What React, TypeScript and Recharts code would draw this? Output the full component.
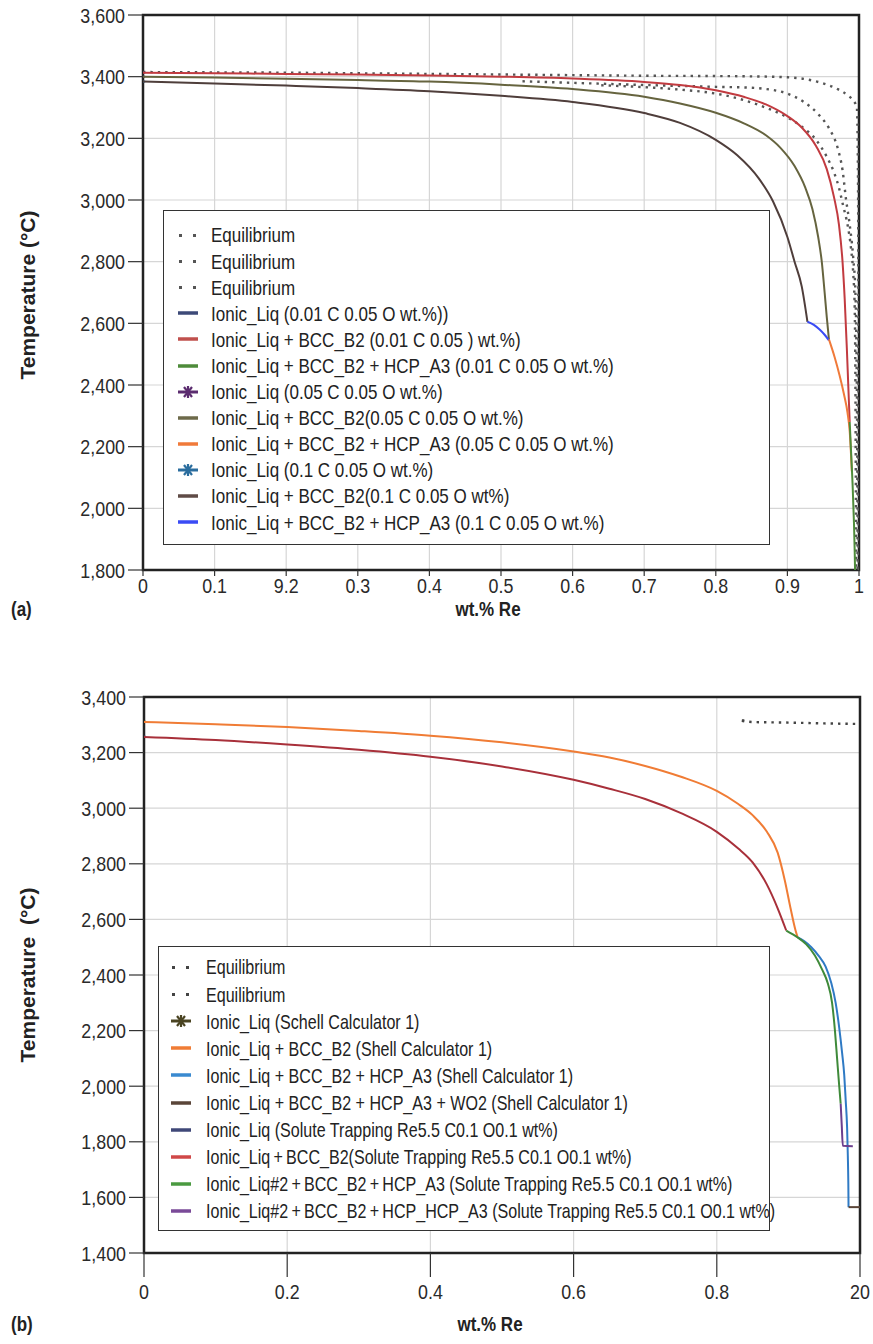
import React from 'react';
import { LineChart, Line, XAxis, YAxis, CartesianGrid, ReferenceArea } from 'recharts';

const FONT = "'Liberation Sans',Arial,sans-serif";

// ---------- Panel (a) ----------
const A_X_TICKS = [0, 0.1, 0.2, 0.3, 0.4, 0.5, 0.6, 0.7, 0.8, 0.9, 1];
const A_X_LABELS = ['0', '0.1', '9.2', '0.3', '0.4', '0.5', '0.6', '0.7', '0.8', '0.9', '1'];
const A_Y_TICKS = [1800, 2000, 2200, 2400, 2600, 2800, 3000, 3200, 3400, 3600];

const A_EQ1: [number, number][] = [[0, 3415], [0.1, 3414], [0.2, 3413], [0.3, 3411], [0.4, 3409], [0.5, 3407], [0.6, 3405], [0.7, 3403], [0.8, 3402], [0.85, 3401], [0.9, 3398], [0.93, 3390], [0.95, 3378], [0.97, 3360], [0.985, 3338], [0.993, 3320], [0.997, 3300], [0.9985, 3100], [0.9992, 2600], [0.9995, 1800]];
const A_EQ2: [number, number][] = [[0.53, 3385], [0.6, 3380], [0.7, 3373], [0.8, 3367], [0.85, 3364], [0.87, 3360], [0.9, 3345], [0.923, 3318], [0.944, 3276], [0.958, 3233], [0.971, 3162], [0.977, 3097], [0.982, 3000], [0.987, 2920], [0.992, 2810], [0.995, 2700], [0.9965, 2500], [0.9975, 2200], [0.998, 1800]];
const A_EQ3: [number, number][] = [[0.64, 3372], [0.7, 3366], [0.75, 3358], [0.8, 3345], [0.83, 3330], [0.86, 3308], [0.88, 3290], [0.9, 3268], [0.92, 3238], [0.94, 3195], [0.955, 3140], [0.965, 3090], [0.972, 3040], [0.978, 2980], [0.984, 2920], [0.989, 2840], [0.992, 2760], [0.994, 2650], [0.995, 2400], [0.9957, 2000], [0.996, 1800]];
const A_LIQ_001: [number, number][] = [[0, 3413], [0.003, 3413]];
const A_BCC_001: [number, number][] = [[0, 3413], [0.1, 3411], [0.2, 3409], [0.3, 3407], [0.4, 3404], [0.5, 3400], [0.6, 3394], [0.7, 3383], [0.75, 3373], [0.8, 3356], [0.84, 3334], [0.87, 3310], [0.9, 3272], [0.92, 3235], [0.94, 3175], [0.955, 3100], [0.965, 3010], [0.972, 2920], [0.977, 2800], [0.98, 2680], [0.983, 2520], [0.985, 2400], [0.987, 2280]];
const A_HCP_001: [number, number][] = [[0.987, 2280], [0.989, 2180], [0.991, 2080], [0.993, 1950], [0.994, 1860], [0.9945, 1800]];
const A_LIQ_005: [number, number][] = [[0, 3400], [0.003, 3400]];
const A_BCC_005: [number, number][] = [[0, 3400], [0.1, 3397], [0.2, 3393], [0.3, 3389], [0.4, 3384], [0.5, 3374], [0.6, 3360], [0.7, 3335], [0.75, 3313], [0.8, 3283], [0.84, 3248], [0.87, 3210], [0.89, 3170], [0.91, 3110], [0.925, 3040], [0.935, 2970], [0.943, 2880], [0.948, 2800], [0.952, 2700], [0.955, 2620], [0.958, 2548]];
const A_HCP_005: [number, number][] = [[0.958, 2548], [0.966, 2490], [0.973, 2430], [0.979, 2370], [0.984, 2310], [0.987, 2250], [0.99, 2120]];
const A_LIQ_01: [number, number][] = [[0, 3384], [0.003, 3384]];
const A_BCC_01: [number, number][] = [[0, 3384], [0.1, 3378], [0.2, 3371], [0.3, 3363], [0.4, 3353], [0.5, 3338], [0.6, 3318], [0.7, 3282], [0.75, 3250], [0.8, 3195], [0.83, 3145], [0.86, 3070], [0.88, 2995], [0.9, 2880], [0.91, 2800], [0.92, 2720], [0.928, 2605]];
const A_HCP_01: [number, number][] = [[0.928, 2605], [0.937, 2595], [0.945, 2580], [0.952, 2563], [0.958, 2545]];

const A_NAMES = [
  'Equilibrium',
  'Equilibrium',
  'Equilibrium',
  'Ionic_Liq (0.01 C 0.05 O wt.%))',
  'Ionic_Liq + BCC_B2 (0.01 C 0.05 ) wt.%)',
  'Ionic_Liq + BCC_B2 + HCP_A3 (0.01 C 0.05 O wt.%)',
  'Ionic_Liq (0.05 C 0.05 O wt.%)',
  'Ionic_Liq + BCC_B2(0.05 C 0.05 O wt.%)',
  'Ionic_Liq + BCC_B2 + HCP_A3 (0.05 C 0.05 O wt.%)',
  'Ionic_Liq (0.1 C 0.05 O wt.%)',
  'Ionic_Liq + BCC_B2(0.1 C 0.05 O wt%)',
  'Ionic_Liq + BCC_B2 + HCP_A3 (0.1 C 0.05 O wt.%)',
];
const A_COLORS = ['#555555', '#555555', '#555555', '#3d4a78', '#c23b40', '#4e8b3a', '#5b2c6f', '#66643f', '#f07a3a', '#2b6d9e', '#4f3e3b', '#3a4bf5'];
const A_LEGEND_COLORS = ['#555555', '#555555', '#555555', '#3d4a78', '#c0504d', '#4e8b3a', '#5b2c6f', '#6d6a4a', '#f07a3a', '#2b6d9e', '#5f4b46', '#3a4bf5'];
const A_KIND = ['dot', 'dot', 'dot', 'line', 'line', 'line', 'star', 'line', 'line', 'star', 'line', 'line'];
const A_DATA = [A_EQ1, A_EQ2, A_EQ3, A_LIQ_001, A_BCC_001, A_HCP_001, A_LIQ_005, A_BCC_005, A_HCP_005, A_LIQ_01, A_BCC_01, A_HCP_01];
const A_DRAW_ORDER = [0, 1, 2, 3, 6, 9, 4, 7, 10, 11, 8, 5];

// ---------- Panel (b) ----------
const B_X_TICKS = [0, 0.2, 0.4, 0.6, 0.8, 1];
const B_X_LABELS = ['0', '0.2', '0.4', '0.6', '0.8', '20'];
const B_Y_TICKS = [1400, 1600, 1800, 2000, 2200, 2400, 2600, 2800, 3000, 3200, 3400];

const B_EQ1: [number, number][] = [[0.835, 3314], [0.85, 3310], [0.9, 3308], [0.95, 3305], [1, 3303]];
const B_EQ2: [number, number][] = [[0.835, 3316], [0.845, 3314]];
const B_LIQ_SHELL: [number, number][] = [[0, 3312], [0.002, 3312]];
const B_BCC_SHELL: [number, number][] = [[0, 3310], [0.1, 3302], [0.2, 3292], [0.3, 3278], [0.4, 3261], [0.5, 3237], [0.6, 3204], [0.65, 3182], [0.7, 3152], [0.75, 3113], [0.8, 3062], [0.83, 3015], [0.85, 2975], [0.87, 2915], [0.885, 2840], [0.895, 2740], [0.903, 2640], [0.91, 2560], [0.913, 2535]];
const B_HCP_SHELL: [number, number][] = [[0.913, 2535], [0.922, 2522], [0.932, 2500], [0.942, 2470], [0.952, 2430], [0.96, 2370], [0.966, 2300], [0.971, 2210], [0.975, 2120], [0.978, 2040], [0.98, 1950], [0.982, 1850], [0.983, 1750], [0.9837, 1650], [0.984, 1565]];
const B_WO2_SHELL: [number, number][] = [[0.984, 1565], [1, 1565]];
const B_LIQ_ST: [number, number][] = [[0, 3258], [0.002, 3258]];
const B_BCC_ST: [number, number][] = [[0, 3256], [0.1, 3245], [0.2, 3229], [0.3, 3210], [0.4, 3185], [0.5, 3150], [0.6, 3102], [0.65, 3070], [0.7, 3033], [0.75, 2982], [0.8, 2915], [0.83, 2855], [0.85, 2805], [0.87, 2725], [0.885, 2640], [0.897, 2560]];
const B_HCP_ST: [number, number][] = [[0.897, 2560], [0.905, 2548], [0.913, 2535], [0.925, 2510], [0.937, 2470], [0.947, 2420], [0.955, 2370], [0.961, 2300], [0.965, 2200], [0.968, 2100], [0.971, 2000], [0.973, 1937]];
const B_HCPHCP_ST: [number, number][] = [[0.973, 1937], [0.9745, 1860], [0.976, 1786], [0.99, 1784]];

const B_NAMES = [
  'Equilibrium',
  'Equilibrium',
  'Ionic_Liq (Schell Calculator 1)',
  'Ionic_Liq + BCC_B2 (Shell Calculator 1)',
  'Ionic_Liq + BCC_B2 + HCP_A3 (Shell Calculator 1)',
  'Ionic_Liq + BCC_B2 + HCP_A3 + WO2 (Shell Calculator 1)',
  'Ionic_Liq (Solute Trapping Re5.5 C0.1 O0.1 wt%)',
  'Ionic_Liq\u2009+\u2009BCC_B2(Solute Trapping Re5.5 C0.1 O0.1 wt%)',
  'Ionic_Liq#2\u2009+\u2009BCC_B2\u2009+\u2009HCP_A3 (Solute Trapping Re5.5 C0.1 O0.1 wt%)',
  'Ionic_Liq#2\u2009+\u2009BCC_B2\u2009+\u2009HCP_HCP_A3 (Solute Trapping Re5.5 C0.1 O0.1 wt%)',
];
const B_COLORS = ['#444444', '#444444', '#4a4422', '#f07c35', '#2f7ac4', '#5a4538', '#3f4878', '#a8303a', '#3f8a3a', '#6c3f8e'];
const B_LEGEND_COLORS = ['#444444', '#444444', '#4a4422', '#f07c35', '#3a8ad0', '#5a4538', '#3f4878', '#d04848', '#4a9a40', '#7a4a98'];
const B_KIND = ['dot', 'dot', 'star', 'line', 'line', 'line', 'line', 'line', 'line', 'line'];
const B_DATA = [B_EQ1, B_EQ2, B_LIQ_SHELL, B_BCC_SHELL, B_HCP_SHELL, B_WO2_SHELL, B_LIQ_ST, B_BCC_ST, B_HCP_ST, B_HCPHCP_ST];
const B_DRAW_ORDER = [0, 1, 2, 6, 3, 7, 4, 5, 8, 9];

const toPts = (d: [number, number][]) => d.map(([x, t]) => ({ x, t }));

const TICK_SCALE = 0.85;

function XTick(props: any) {
  const { x, y, payload, labels, ticks } = props;
  const label = labels[ticks.indexOf(payload.value)];
  return (
    <text transform={`translate(${x},${y}) scale(${TICK_SCALE},1)`} textAnchor="middle" dy="0.74em"
      fontFamily={FONT} fontSize={21} fill="#2a2a2a">{label}</text>
  );
}

function YTick(props: any) {
  const { x, y, payload } = props;
  return (
    <text transform={`translate(${x},${y}) scale(${TICK_SCALE},1)`} textAnchor="end" dy="0.36em"
      fontFamily={FONT} fontSize={21} fill="#2a2a2a">{Number(payload.value).toLocaleString('en-US')}</text>
  );
}

function LegendIcon({ kind, color }: { kind: string; color: string }) {
  if (kind === 'dot') {
    return (
      <svg width={22} height={12} style={{ display: 'block' }}>
        <rect x={2} y={5} width={3} height={3} fill={color} />
        <rect x={16} y={5} width={3} height={3} fill={color} />
      </svg>
    );
  }
  if (kind === 'star') {
    return (
      <svg width={22} height={12} style={{ display: 'block' }}>
        <line x1={1} y1={6} x2={21} y2={6} stroke={color} strokeWidth={3} />
        <g stroke={color} strokeWidth={2.2}>
          <line x1={7} y1={1} x2={15} y2={11} />
          <line x1={15} y1={1} x2={7} y2={11} />
          <line x1={11} y1={0} x2={11} y2={12} />
        </g>
      </svg>
    );
  }
  return (
    <svg width={22} height={12} style={{ display: 'block' }}>
      <line x1={1} y1={6} x2={21} y2={6} stroke={color} strokeWidth={3.5} />
    </svg>
  );
}

function LegendBox(props: {
  left: number; top: number; width: number; height: number;
  names: string[]; colors: string[]; kinds: string[];
  firstRow: number; rowGap: number; iconX: number; textX: number; fontSize: number; squeeze: number;
}) {
  const { left, top, width, height, names, colors, kinds, firstRow, rowGap, iconX, textX, fontSize, squeeze } = props;
  return (
    <div style={{ position: 'absolute', left, top, width, height, border: '1.5px solid #333', boxSizing: 'border-box', background: '#fff' }}>
      {names.map((n, i) => {
        const cy = firstRow + i * rowGap;
        return (
          <React.Fragment key={i}>
            <div style={{ position: 'absolute', left: iconX, top: cy - 6 }}>
              <LegendIcon kind={kinds[i]} color={colors[i]} />
            </div>
            <div style={{ position: 'absolute', left: textX, top: cy - fontSize * 0.6, height: fontSize * 1.2, fontFamily: FONT, fontSize, color: '#222', whiteSpace: 'pre', lineHeight: 1.2, transform: `scaleX(${squeeze})`, transformOrigin: '0 50%' }}>
              {n}
            </div>
          </React.Fragment>
        );
      })}
    </div>
  );
}

function Panel(props: {
  height: number; top: number; margin: { top: number; right: number; bottom: number; left: number };
  yWidth: number; xHeight: number; xTickSize: number; xTickMargin: number;
  xTicks: number[]; xLabels: string[]; yTicks: number[];
  data: [number, number][][]; colors: string[]; kinds: string[]; order: number[]; names: string[];
}) {
  const { height, top, margin, yWidth, xHeight, xTickSize, xTickMargin, xTicks, xLabels, yTicks, data, colors, kinds, order, names } = props;
  const yMin = yTicks[0];
  const yMax = yTicks[yTicks.length - 1];
  return (
    <div style={{ position: 'absolute', left: 0, top, width: 873, height }}>
      <LineChart width={873} height={height} margin={margin}>
        <CartesianGrid stroke="#d6d6d6" strokeWidth={1.2} />
        <XAxis
          dataKey="x"
          type="number"
          domain={[0, 1]}
          ticks={xTicks}
          interval={0}
          allowDataOverflow
          tick={<XTick labels={xLabels} ticks={xTicks} />}
          tickLine={{ stroke: '#333', strokeWidth: 1.2 }}
          tickSize={xTickSize}
          tickMargin={xTickMargin}
          axisLine={false}
          height={xHeight}
        />
        <YAxis
          type="number"
          domain={[yMin, yMax]}
          ticks={yTicks}
          interval={0}
          allowDataOverflow
          tick={<YTick />}
          tickLine={{ stroke: '#333', strokeWidth: 1.2 }}
          tickSize={15}
          tickMargin={3}
          axisLine={false}
          width={yWidth}
        />
        {order.map((i) => (
          <Line
            key={i}
            name={names[i]}
            data={toPts(data[i])}
            dataKey="t"
            type="monotone"
            stroke={colors[i]}
            strokeWidth={kinds[i] === 'dot' ? 2.4 : 2}
            strokeDasharray={kinds[i] === 'dot' ? '2.4 5' : undefined}
            dot={false}
            activeDot={false}
            isAnimationActive={false}
          />
        ))}
        <ReferenceArea x1={0} x2={1} y1={yMin} y2={yMax} fill="none" fillOpacity={0} stroke="#222" strokeWidth={2.5} ifOverflow="visible" />
      </LineChart>
    </div>
  );
}

const titleStyle: React.CSSProperties = { position: 'absolute', fontFamily: FONT, fontWeight: 'bold', fontSize: 20, lineHeight: 1, color: '#222', whiteSpace: 'pre' };

export default function App() {
  return (
    <div style={{ position: 'absolute', left: 0, top: 0, width: 873, height: 1344, background: '#fff', overflow: 'hidden' }}>
      <Panel
        height={640} top={0} margin={{ top: 15, right: 14, bottom: 20, left: 0 }}
        yWidth={143} xHeight={50} xTickSize={6} xTickMargin={1}
        xTicks={A_X_TICKS} xLabels={A_X_LABELS} yTicks={A_Y_TICKS}
        data={A_DATA} colors={A_COLORS} kinds={A_KIND} order={A_DRAW_ORDER} names={A_NAMES}
      />
      <LegendBox left={163} top={210} width={607} height={335} names={A_NAMES} colors={A_LEGEND_COLORS} kinds={A_KIND}
        firstRow={24} rowGap={26.1} iconX={13} textX={47} fontSize={21} squeeze={0.81} />
      <div style={{ ...titleStyle, fontSize: 21, left: 27, top: 295, transform: 'translate(-50%, -50%) rotate(-90deg)' }}>Temperature (°C)</div>
      <div style={{ ...titleStyle, left: 488, top: 609, transform: 'translate(-50%, -50%) scaleX(0.85)' }}>wt.% Re</div>
      <div style={{ ...titleStyle, left: 11, top: 609, transform: 'translate(0, -50%) scaleX(0.85)', transformOrigin: '0 50%' }}>(a)</div>

      <Panel
        height={664} top={680} margin={{ top: 17, right: 13, bottom: 41, left: 0 }}
        yWidth={144} xHeight={50} xTickSize={24} xTickMargin={6}
        xTicks={B_X_TICKS} xLabels={B_X_LABELS} yTicks={B_Y_TICKS}
        data={B_DATA} colors={B_COLORS} kinds={B_KIND} order={B_DRAW_ORDER} names={B_NAMES}
      />
      <LegendBox left={158} top={946} width={612} height={285} names={B_NAMES} colors={B_LEGEND_COLORS} kinds={B_KIND}
        firstRow={20} rowGap={27.1} iconX={11} textX={47} fontSize={21} squeeze={0.765} />
      <div style={{ ...titleStyle, fontSize: 21, left: 27, top: 975, transform: 'translate(-50%, -50%) rotate(-90deg)' }}>Temperature  (°C)</div>
      <div style={{ ...titleStyle, left: 490, top: 1324, transform: 'translate(-50%, -50%) scaleX(0.85)' }}>wt.% Re</div>
      <div style={{ ...titleStyle, left: 11, top: 1324, transform: 'translate(0, -50%) scaleX(0.85)', transformOrigin: '0 50%' }}>(b)</div>
    </div>
  );
}
